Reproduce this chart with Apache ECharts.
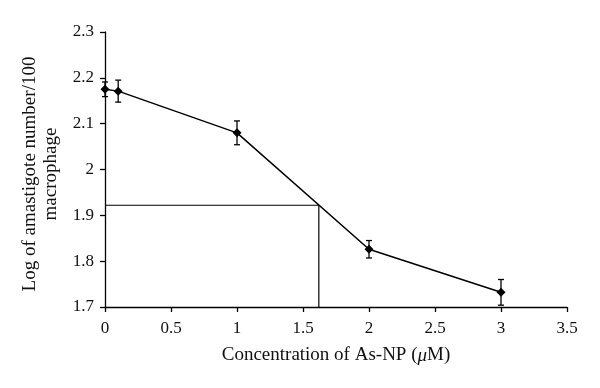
<!DOCTYPE html>
<html><head><meta charset="utf-8">
<script src="https://cdn.jsdelivr.net/npm/echarts@6/dist/echarts.min.js"></script>
<style>html,body{margin:0;padding:0;background:#fff}#c{width:600px;height:388px}</style>
</head><body><div id="c"></div>
<script>
const concentrations = [0, 0.1, 1, 2, 3];
const logAmastigote = [2.175, 2.171, 2.080, 1.826, 1.732];
const errors = [0.016, 0.024, 0.026, 0.019, 0.028];
const ic50X = 1.62;
const ic50Y = 1.922;
const yMin = 1.7;

const chart = echarts.init(document.getElementById('c'));
const font = '"Liberation Serif", "Times New Roman", serif';
const pts = concentrations.map((x, i) => [x, logAmastigote[i]]);
const errData = concentrations.map((x, i) => [x, logAmastigote[i] - errors[i], logAmastigote[i] + errors[i]]);

chart.setOption({
  animation: false,
  backgroundColor: '#fff',
  grid: { left: 105, right: 33, top: 32, bottom: 81 },
  xAxis: {
    type: 'value', min: 0, max: 3.5, interval: 0.5,
    name: 'Concentration of As-NP ({i|μ}M)',
    nameLocation: 'middle', nameGap: 39,
    nameTextStyle: { fontFamily: font, fontSize: 19, color: '#111', rich: { i: { fontFamily: font, fontSize: 19, fontStyle: 'italic', color: '#111' } } },
    axisLine: { lineStyle: { color: '#000', width: 1.3 } },
    axisTick: { inside: false, length: 5, lineStyle: { color: '#000', width: 1.3 } },
    axisLabel: { fontFamily: font, fontSize: 17, color: '#111', margin: 13 },
    splitLine: { show: false }
  },
  yAxis: {
    type: 'value', min: 1.7, max: 2.3, interval: 0.1,
    name: 'Log of amastigote number/100\nmacrophage',
    nameLocation: 'middle', nameGap: 42,
    nameTextStyle: { fontFamily: font, fontSize: 19, color: '#111', lineHeight: 21, padding: [0, 9, 0, 0] },
    axisLine: { show: true, lineStyle: { color: '#000', width: 1.3 } },
    axisTick: { show: true, inside: false, length: 5, lineStyle: { color: '#000', width: 1.3 } },
    axisLabel: { fontFamily: font, fontSize: 17, color: '#111', margin: 11, formatter: v => (Math.round(v * 10) / 10).toString() },
    splitLine: { show: false }
  },
  series: [
    {
      type: 'line', data: [[0, ic50Y], [ic50X, ic50Y], [ic50X, yMin]],
      symbol: 'none', lineStyle: { color: '#000', width: 1.2 }, z: 1
    },
    {
      type: 'line', data: pts, symbol: 'diamond', symbolSize: 9,
      itemStyle: { color: '#000' }, lineStyle: { color: '#000', width: 1.5 }, z: 3
    },
    {
      type: 'custom', data: errData, z: 4,
      renderItem: (params, api) => {
        const x = api.value(0);
        const lo = api.coord([x, api.value(1)]);
        const hi = api.coord([x, api.value(2)]);
        const w = 3;
        const st = { stroke: '#000', lineWidth: 1.3 };
        return { type: 'group', children: [
          { type: 'line', shape: { x1: lo[0], y1: lo[1], x2: hi[0], y2: hi[1] }, style: st },
          { type: 'line', shape: { x1: lo[0] - w, y1: lo[1], x2: lo[0] + w, y2: lo[1] }, style: st },
          { type: 'line', shape: { x1: hi[0] - w, y1: hi[1], x2: hi[0] + w, y2: hi[1] }, style: st }
        ]};
      }
    }
  ]
});
</script></body></html>
